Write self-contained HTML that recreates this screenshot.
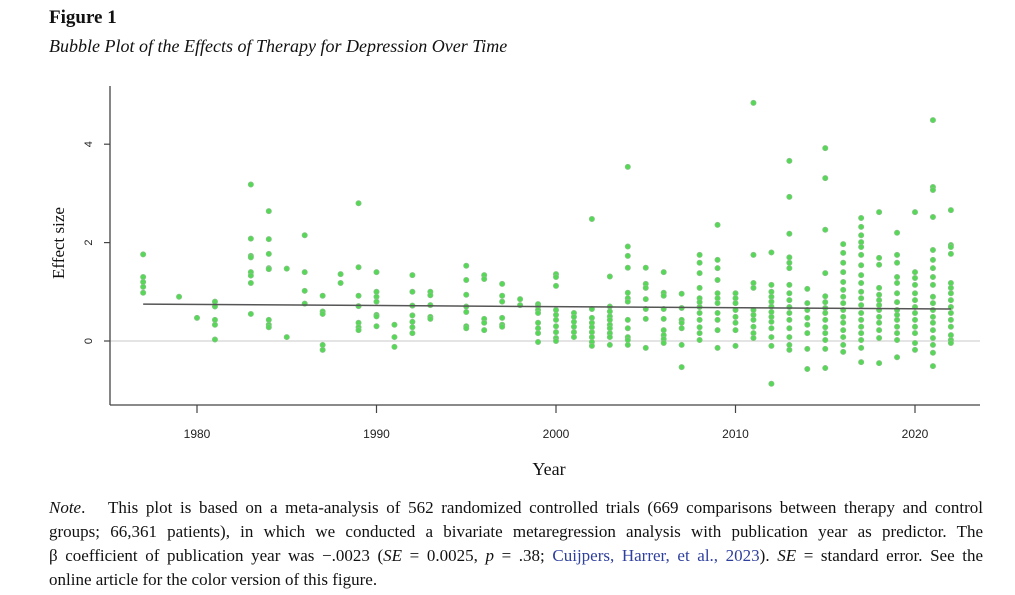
<!DOCTYPE html>
<html><head><meta charset="utf-8"><style>
body{margin:0;background:#fff;width:1015px;height:595px;overflow:hidden;position:relative;font-family:"Liberation Serif",serif;color:#111}
.t1{position:absolute;left:49px;top:7px;font-size:19px;font-weight:bold}
.t2{position:absolute;left:49px;top:36px;font-size:18px;font-style:italic}
.note{position:absolute;left:49px;top:496px;width:934px;font-size:17px;line-height:24px}
.note .ln{display:block;white-space:nowrap;text-align:justify;text-align-last:justify}
.note .last{display:block;white-space:nowrap}
.note a{color:#2e3f9e;text-decoration:none}
svg{position:absolute;left:0;top:0}
</style></head><body>
<div class="t1">Figure 1</div>
<div class="t2">Bubble Plot of the Effects of Therapy for Depression Over Time</div>
<svg id="chart" width="1015" height="595"></svg>
<div class="note"><span class="ln"><i>Note</i>.&nbsp;&nbsp; This plot is based on a meta-analysis of 562 randomized controlled trials (669 comparisons between therapy and control</span><span class="ln">groups; 66,361 patients), in which we conducted a bivariate metaregression analysis with publication year as predictor. The</span><span class="ln">β coefficient of publication year was −.0023 (<i>SE</i> = 0.0025, <i>p</i> = .38; <a>Cuijpers, Harrer, et al., 2023</a>). <i>SE</i> = standard error. See the</span><span class="last">online article for the color version of this figure.</span></div>
<script>
const years=[1977,1979,1980,1981,1983,1984,1985,1986,1987,1988,1989,1990,1991,1992,1993,1995,1996,1997,1998,1999,2000,2001,2002,2003,2004,2005,2006,2007,2008,2009,2010,2011,2012,2013,2014,2015,2016,2017,2018,2019,2020,2021,2022];
const effects=[
[1.76,1.3,1.2,1.1,0.98],[0.9],[0.47],[0.8,0.7,0.43,0.33,0.03],
[3.18,2.08,1.73,1.7,1.4,1.33,1.18,0.55],[2.64,2.07,1.77,1.48,1.46,0.43,0.33,0.28],[1.47,0.08],
[2.15,1.4,1.02,0.76],[0.92,0.6,0.55,-0.08,-0.18],[1.36,1.18],[2.8,1.5,0.92,0.71,0.37,0.28,0.22],
[1.4,1.0,0.9,0.8,0.53,0.5,0.3],[0.33,0.08,-0.12],[1.34,1.0,0.72,0.52,0.39,0.28,0.16],[1.0,0.93,0.73,0.49,0.45],
[1.53,1.24,0.94,0.7,0.59,0.3,0.26],[1.34,1.26,0.45,0.37,0.22],[1.16,0.92,0.8,0.47,0.33,0.29],[0.85,0.73],
[0.75,0.7,0.63,0.57,0.37,0.26,0.16,-0.02],[1.36,1.3,1.12,0.63,0.53,0.43,0.3,0.18,0.06,0],
[0.57,0.49,0.39,0.29,0.18,0.08],[2.48,0.65,0.47,0.37,0.28,0.18,0.08,-0.02,-0.1],
[1.31,0.7,0.6,0.5,0.43,0.33,0.26,0.16,0.08,-0.08],[3.54,1.92,1.73,1.49,0.98,0.87,0.8,0.43,0.26,0.08,0.02,-0.08],
[1.49,1.16,1.08,0.85,0.65,0.45,-0.14],[1.4,0.98,0.92,0.65,0.45,0.22,0.12,0.04,-0.04],[0.96,0.67,0.43,0.37,0.26,-0.08,-0.53],
[1.75,1.59,1.38,1.08,0.87,0.79,0.69,0.57,0.43,0.28,0.16,0.02],
[2.36,1.65,1.48,1.24,0.97,0.87,0.77,0.57,0.43,0.22,-0.14],
[0.97,0.87,0.77,0.63,0.49,0.37,0.22,-0.1],[4.84,1.75,1.18,1.08,0.63,0.53,0.43,0.29,0.16,0.06],
[1.8,1.14,1.0,0.9,0.8,0.7,0.59,0.49,0.39,0.26,0.08,-0.1,-0.87],
[3.66,2.93,2.18,1.7,1.59,1.48,1.14,0.97,0.83,0.69,0.57,0.43,0.26,0.08,-0.08,-0.18],
[1.06,0.77,0.63,0.47,0.33,0.16,-0.16,-0.57],
[3.92,3.31,2.26,1.38,0.91,0.79,0.67,0.57,0.43,0.28,0.16,0.02,-0.16,-0.55],
[1.97,1.79,1.59,1.4,1.2,1.04,0.9,0.77,0.63,0.49,0.37,0.22,0.08,-0.08,-0.22],
[2.5,2.32,2.15,2.01,1.91,1.75,1.54,1.34,1.18,1.0,0.87,0.73,0.57,0.43,0.29,0.16,0.02,-0.14,-0.43],
[2.62,1.69,1.55,1.08,0.94,0.83,0.73,0.63,0.49,0.37,0.22,0.06,-0.45],
[2.2,1.75,1.59,1.3,1.18,0.97,0.79,0.63,0.53,0.43,0.29,0.16,0.02,-0.33],
[2.62,1.4,1.28,1.14,0.97,0.83,0.69,0.57,0.43,0.29,0.16,-0.04,-0.18],
[4.49,3.13,3.07,2.52,1.85,1.65,1.48,1.3,1.14,0.9,0.77,0.63,0.49,0.37,0.22,0.06,-0.08,-0.24,-0.51],
[2.66,1.95,1.91,1.77,1.18,1.08,0.97,0.83,0.69,0.57,0.43,0.29,0.12,0.02,-0.04]
];
const xTicks=[1980,1990,2000,2010,2020];
const yTicks=[0,2,4];
const lineYears=[1977,2022];
const lineValues=[0.75,0.65];

const NS='http://www.w3.org/2000/svg';
const svg=document.getElementById('chart');
const xs=y=>197+(y-1980)*17.95;
const ys=v=>341-v*49.2;
function mk(tag,attrs,parent){const e=document.createElementNS(NS,tag);for(const k in attrs)e.setAttribute(k,attrs[k]);(parent||svg).appendChild(e);return e;}

let e;
e=mk('line',{x1:110,x2:980,y1:ys(0),y2:ys(0),stroke:'#d4d4d4','stroke-width':1.2});


e=mk('line',{x1:110,x2:110,y1:86,y2:405,stroke:'#444','stroke-width':1.3});


e=mk('line',{x1:110,x2:980,y1:405,y2:405,stroke:'#444','stroke-width':1.3});



yTicks.forEach(v=>{
  const y=ys(v);
  e=mk('line',{x1:104,x2:110,y1:y,y2:y,stroke:'#444','stroke-width':1.2});
  
  
  e=mk('text',{x:0,y:0,transform:`translate(92,${y}) rotate(-90)`,'text-anchor':'middle','font-family':'Liberation Sans, sans-serif','font-size':11,fill:'#222'});
  e.textContent=v;
  
  
});
xTicks.forEach(v=>{
  const x=xs(v);
  e=mk('line',{x1:x,x2:x,y1:405,y2:413,stroke:'#444','stroke-width':1.2});
  
  
  e=mk('text',{x:x,y:438,'text-anchor':'middle','font-family':'Liberation Sans, sans-serif','font-size':12,fill:'#222'});
  e.textContent=v;
  
  
});
e=mk('text',{x:0,y:0,transform:'translate(64,243) rotate(-90)','text-anchor':'middle','font-family':'Liberation Serif, serif','font-size':17,fill:'#111'});
e.textContent='Effect size';


e=mk('text',{x:549,y:475,'text-anchor':'middle','font-family':'Liberation Serif, serif','font-size':18,fill:'#111'});
e.textContent='Year';



const g=mk('g',{});


years.forEach((yr,i)=>{
  effects[i].forEach(v=>{
    const c=mk('circle',{cx:xs(yr),cy:ys(v),r:2.6,fill:'#55d855',stroke:'#86c486','stroke-width':0.8},g);
    
    
  });
});
e=mk('line',{x1:xs(lineYears[0]),y1:ys(lineValues[0]),x2:xs(lineYears[1]),y2:ys(lineValues[1]),stroke:'#555','stroke-width':1.5});


</script>
</body></html>
